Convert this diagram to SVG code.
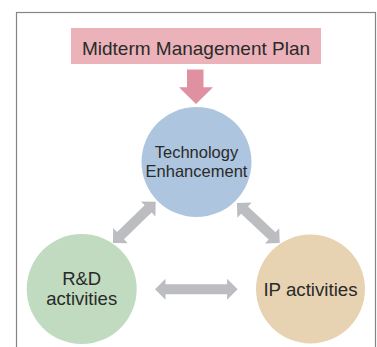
<svg xmlns="http://www.w3.org/2000/svg" width="377" height="347" viewBox="0 0 377 347">
<style>
text{font-family:"Liberation Sans",Arial,sans-serif;fill:#2a2a2a;text-anchor:middle}
.gray{fill:#bcbdc1}
</style>
<rect width="377" height="347" fill="#ffffff"/>
<rect x="16.5" y="12.5" width="359" height="360" fill="none" stroke="#858585" stroke-width="1.2"/>
<g id="plan">
<rect x="71" y="28" width="250" height="36" fill="#ebb2b9"/>
<text x="196" y="54.5" font-size="19">Midterm Management Plan</text>
</g>
<g id="tech">
<circle cx="196.5" cy="162" r="55" fill="#adc5df"/>
<text x="196.5" y="157.5" font-size="16.5">Technology</text>
<text x="196.5" y="176.5" font-size="16.5">Enhancement</text>
</g>
<g id="rd">
<circle cx="81.7" cy="289" r="55" fill="#c0dbbf"/>
<text x="81.7" y="285" font-size="18.5">R&amp;D</text>
<text x="81.7" y="304.5" font-size="18.5">activities</text>
</g>
<g id="ip">
<circle cx="310.5" cy="289" r="54.5" fill="#e7d3b2"/>
<text x="310.5" y="295.5" font-size="18.7">IP activities</text>
</g>
<g id="connectors">
<path d="M187 69.5 H203.5 V87.3 H213 L196 104 L179 87.3 H187 Z" fill="#df91a2"/>
<path class="gray" transform="translate(196.3 289.3)" d="M-41.3 0 L-30.8 -10.5 L-30.8 -5 L30.8 -5 L30.8 -10.5 L41.3 0 L30.8 10.5 L30.8 5 L-30.8 5 L-30.8 10.5 Z"/>
<path class="gray" transform="translate(134.3 222.3) rotate(-44)" d="M-29.7 0 L-19.2 -10.5 L-19.2 -5 L19.2 -5 L19.2 -10.5 L29.7 0 L19.2 10.5 L19.2 5 L-19.2 5 L-19.2 10.5 Z"/>
<path class="gray" transform="translate(258.3 223) rotate(43)" d="M-29.3 0 L-18.8 -10.5 L-18.8 -5 L18.8 -5 L18.8 -10.5 L29.3 0 L18.8 10.5 L18.8 5 L-18.8 5 L-18.8 10.5 Z"/>
</g>
</svg>
